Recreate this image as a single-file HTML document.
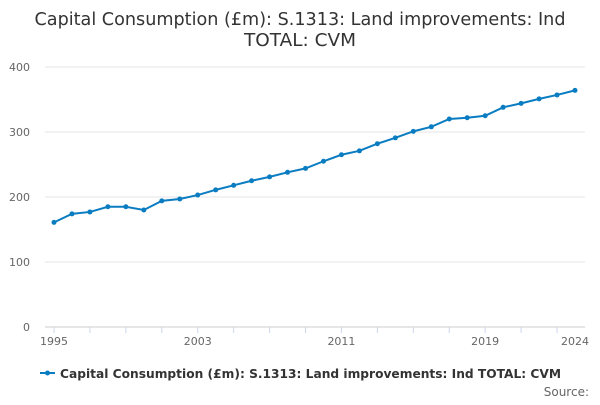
<!DOCTYPE html>
<html><head><meta charset="utf-8"><style>
body{margin:0;background:#fff;font-family:"Liberation Sans","DejaVu Sans",sans-serif;}
svg text{font-family:"DejaVu Sans","Liberation Sans",sans-serif;}
</style></head><body>
<svg id="c" width="600" height="400">
<text x="300" y="25" text-anchor="middle" font-size="17.5" fill="#333" textLength="531" lengthAdjust="spacingAndGlyphs">Capital Consumption (£m): S.1313: Land improvements: Ind</text>
<text x="300" y="46" text-anchor="middle" font-size="17.5" fill="#333" textLength="112" lengthAdjust="spacingAndGlyphs">TOTAL: CVM</text>
<g id="grid"></g><g id="xaxis"></g><g id="series"></g>
<g>
<line x1="40" y1="373" x2="55" y2="373" stroke="#0a7cc1" stroke-width="2"/>
<circle cx="47.5" cy="373" r="2.5" fill="#0a7cc1"/>
<text x="60" y="378" font-size="12.5" font-weight="bold" fill="#333" textLength="501" lengthAdjust="spacingAndGlyphs">Capital Consumption (£m): S.1313: Land improvements: Ind TOTAL: CVM</text>
</g>
<text x="589" y="396" text-anchor="end" font-size="12" fill="#666">Source:</text>
</svg>
<script>
const years=[1995,1996,1997,1998,1999,2000,2001,2002,2003,2004,2005,2006,2007,2008,2009,2010,2011,2012,2013,2014,2015,2016,2017,2018,2019,2020,2021,2022,2023,2024];
const values=[161,174,177,185,185,180,194,197,203,211,218,225,231,238,244,255,265,271,282,291,301,308,320,322,325,338,344,351,357,364];
const yTicks=[0,100,200,300,400];
const xLabels=[1995,2003,2011,2019,2024];
const NS="http://www.w3.org/2000/svg";
const X=y=>54+(y-1995)*(575-54)/29;
const Y=v=>327-v*0.65;
function mk(t,a,p){const e=document.createElementNS(NS,t);for(const k in a)e.setAttribute(k,a[k]);p.appendChild(e);return e;}
const g=document.getElementById('grid');
yTicks.forEach(t=>{
 const l=mk('line',{x1:45,x2:585,y1:Y(t),y2:Y(t),stroke:t===0?'#ccc':'#e6e6e6'},g);
 
 
 const tx=mk('text',{x:30,y:Y(t)+4,'text-anchor':'end','font-size':11,fill:'#666'},g);
 tx.textContent=t;
 
 
});
const xa=document.getElementById('xaxis');
for(let yr=1995;yr<=2024;yr+=2){
 const l=mk('line',{x1:X(yr),x2:X(yr),y1:327,y2:333,stroke:'#ccd6eb'},xa);
 
 
}
xLabels.forEach(yr=>{
 const t=mk('text',{x:X(yr),y:345,'text-anchor':'middle','font-size':11,fill:'#666'},xa);
 t.textContent=yr;
 
 
});
const s=document.getElementById('series');
const p=mk('polyline',{points:years.map((y,i)=>X(y)+','+Y(values[i])).join(' '),fill:'none',stroke:'#0a7cc1','stroke-width':2},s);


years.forEach((y,i)=>{
 const c=mk('circle',{cx:X(y),cy:Y(values[i]),r:2.5,fill:'#0a7cc1'},s);
 
 
});
</script>
</body></html>
